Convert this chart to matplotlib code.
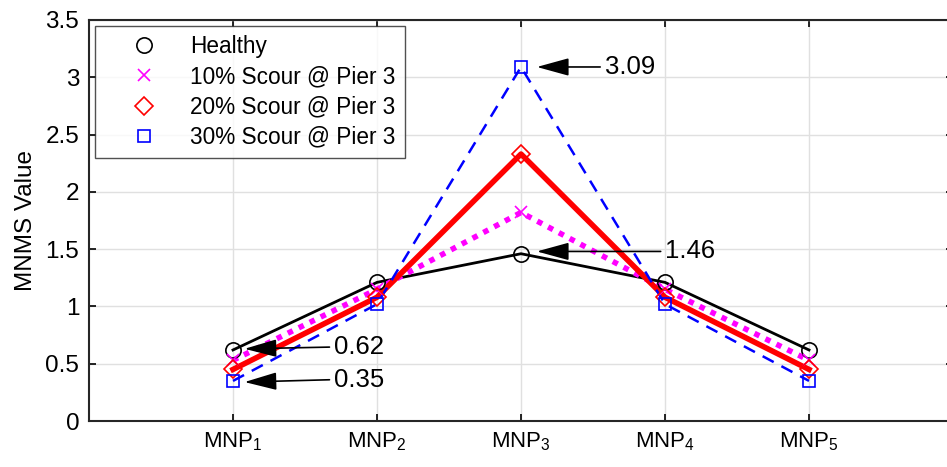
import matplotlib
matplotlib.use("Agg")
import matplotlib.pyplot as plt
import numpy as np

plt.rcParams['font.family'] = ['Liberation Sans', 'DejaVu Sans']
plt.rcParams['mathtext.fontset'] = 'custom'
plt.rcParams['mathtext.rm'] = 'Liberation Sans'
plt.rcParams['mathtext.it'] = 'Liberation Sans'

positions = [1, 2, 3, 4, 5]
tick_labels = ['MNP$_\\mathregular{1}$', 'MNP$_\\mathregular{2}$', 'MNP$_\\mathregular{3}$',
               'MNP$_\\mathregular{4}$', 'MNP$_\\mathregular{5}$']
healthy = [0.62, 1.21, 1.46, 1.21, 0.62]
scour10 = [0.53, 1.15, 1.82, 1.15, 0.53]
scour20 = [0.45, 1.08, 2.33, 1.08, 0.45]
scour30 = [0.35, 1.02, 3.09, 1.02, 0.35]
labels = ['Healthy', '10% Scour @ Pier 3', '20% Scour @ Pier 3', '30% Scour @ Pier 3']

fig = plt.figure(figsize=(9.47, 4.67), dpi=100)
ax = fig.add_axes([89/947, 46/467, 864/947, 401/467])

# lines
ax.plot(positions, healthy, color='black', lw=2, ls='-')
ax.plot(positions, scour10, color='magenta', lw=4, ls=(0, (1, 1.2)))
ax.plot(positions, scour20, color='red', lw=4, ls='-')
ax.plot(positions, scour30, color='blue', lw=1.8, ls=(0, (5, 3.5)))

# markers
ax.plot(positions, healthy, ls='none', marker='o', ms=11, mfc='none', mec='black', mew=1.2, label=labels[0])
ax.plot(positions, scour10, ls='none', marker='x', ms=8, mec='magenta', mew=1.2, label=labels[1])
ax.plot(positions, scour20, ls='none', marker='D', ms=9, mfc='none', mec='red', mew=1.2, label=labels[2])
ax.plot(positions, scour30, ls='none', marker='s', ms=9, mfc='none', mec='blue', mew=1.2, label=labels[3])

ax.set_xlim(0, 6)
ax.set_ylim(0, 3.5)
ax.set_xticks(positions)
ax.set_xticklabels(tick_labels, fontsize=16)
ax.set_yticks(np.arange(0, 3.51, 0.5))
ax.set_yticklabels(['0', '0.5', '1', '1.5', '2', '2.5', '3', '3.5'], fontsize=17.5)
ax.tick_params(direction='in', length=5, width=1.2, top=True, right=True, pad=7)
ax.grid(True, color='#e0e0e0', lw=1)
ax.set_axisbelow(True)
for s in ax.spines.values():
    s.set_linewidth(1.5)
    s.set_color('#262626')
ax.set_ylabel('MNMS Value', fontsize=17.5, labelpad=6)

leg = ax.legend(loc='upper left', bbox_to_anchor=(6/864, 395/401), fontsize=16.3, frameon=True,
                fancybox=False, edgecolor='#262626', handlelength=3.5, handletextpad=0.3,
                borderpad=0.4, labelspacing=0.32, borderaxespad=0)
leg.get_frame().set_linewidth(1)

arrow = dict(arrowstyle='-|>,head_length=2.0,head_width=0.55', color='black', lw=1.2,
             shrinkA=0, shrinkB=0)
ann = [
    (3.09, 3.11, 3.09, 3.55, 3.09),
    (1.46, 3.11, 1.48, 3.97, 1.48),
    (0.62, 1.08, 0.63, 1.67, 0.645),
    (0.35, 1.08, 0.34, 1.67, 0.36),
]
for val, hx, hy, tx, ty in ann:
    ax.annotate('', xy=(hx, hy), xytext=(tx, ty), arrowprops=arrow)
    ax.text(tx + 0.03, ty, f'{val:.2f}', fontsize=18.5, va='center', ha='left')

fig.savefig('out.png', dpi=100)
